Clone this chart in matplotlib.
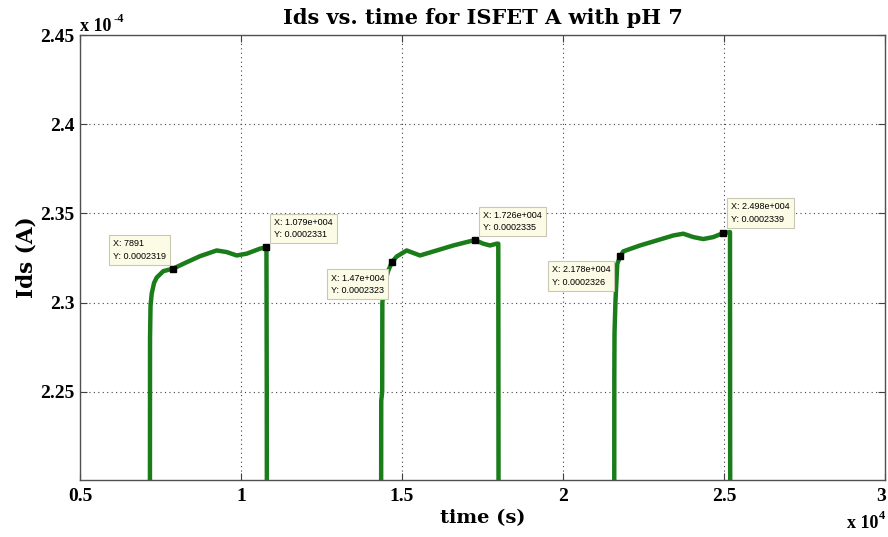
import matplotlib
matplotlib.use("Agg")
import numpy as np
import matplotlib.pyplot as plt
from matplotlib.ticker import FuncFormatter, FixedLocator
from matplotlib.transforms import ScaledTranslation

# ---- measured data: time (s) and drain current Ids (in units of 1e-4 A) ----
t_run1 = [7170, 7175, 7190, 7227, 7300, 7382, 7587, 7891, 8314, 8727, 9245,
          9556, 9866, 10177, 10590, 10790, 10800, 10805]
ids_run1 = [2.15, 2.28, 2.298, 2.305, 2.311, 2.314, 2.3176, 2.319, 2.3226, 2.326,
            2.3292, 2.3283, 2.3264, 2.3274, 2.3302, 2.331, 2.25, 2.15]

t_run2 = [14350, 14355, 14385, 14390, 14450, 14575, 14700, 14835, 15146, 15559,
          16078, 16593, 17009, 17260, 17525, 17733, 17941, 17990, 17995, 18000]
ids_run2 = [2.15, 2.245, 2.25, 2.30, 2.310, 2.318, 2.323, 2.3258, 2.3292, 2.3264,
            2.3292, 2.332, 2.3339, 2.335, 2.333, 2.332, 2.333, 2.333, 2.25, 2.15]

t_run3 = [21590, 21594, 21600, 21630, 21686, 21780, 21873, 22391, 22910, 23425,
          23736, 24047, 24357, 24668, 24980, 25186, 25190, 25195]
ids_run3 = [2.15, 2.26, 2.283, 2.301, 2.3217, 2.326, 2.3287, 2.332, 2.3348, 2.3376,
            2.3386, 2.3367, 2.3356, 2.3367, 2.339, 2.3395, 2.25, 2.15]

# data cursor points
tip_t = [7891, 10790, 14700, 17260, 21780, 24980]
tip_ids = [2.319, 2.331, 2.323, 2.335, 2.326, 2.339]
tip_x_text = ["7891", "1.079e+004", "1.47e+004", "1.726e+004", "2.178e+004", "2.498e+004"]
tip_y_text = ["0.0002319", "0.0002331", "0.0002323", "0.0002335", "0.0002326", "0.0002339"]

x_ticks = [0.5e4, 1.0e4, 1.5e4, 2.0e4, 2.5e4, 3.0e4]
y_ticks = [2.25e-4, 2.30e-4, 2.35e-4, 2.40e-4, 2.45e-4]

SCALE = 1e-4
serif = ["Liberation Serif", "DejaVu Serif"]
wide_serif = ["DejaVu Serif", "Liberation Serif"]
sans = ["Liberation Sans", "DejaVu Sans"]

W, H = 888, 537
fig = plt.figure(figsize=(W / 100, H / 100), dpi=100)
ax = fig.add_axes([80 / W, 1 - 480 / H, 805 / W, 445 / H])

line_color = "#1a7d1a"
for t, ids in ((t_run1, ids_run1), (t_run2, ids_run2), (t_run3, ids_run3)):
    ax.plot(t, np.array(ids) * SCALE, color=line_color, lw=3.2,
            solid_joinstyle="round", zorder=3)

ax.set_xlim(0.5e4, 3.0e4)
ax.set_ylim(2.2005e-4, 2.45e-4)
ax.xaxis.set_major_locator(FixedLocator(x_ticks))
ax.yaxis.set_major_locator(FixedLocator(y_ticks))
ax.xaxis.set_major_formatter(FuncFormatter(lambda v, p: f"{v / 1e4:g}"))
ax.yaxis.set_major_formatter(FuncFormatter(lambda v, p: f"{v / 1e-4:g}"))

ax.grid(True, linestyle=(0, (1, 3)), color="#444444", lw=0.8)
ax.tick_params(direction="in", length=5, width=0.8, top=True, right=True,
               colors="#404040", labelcolor="black")
ax.tick_params(axis="y", pad=4)
ax.tick_params(axis="x", pad=6)
for lbl in ax.get_xticklabels() + ax.get_yticklabels():
    lbl.set_fontfamily(serif)
    lbl.set_fontweight("bold")
    lbl.set_fontsize(14)
# keep the last x label inside the canvas
last = ax.get_xticklabels()[-1]
last.set_transform(last.get_transform() + ScaledTranslation(-4 / 100, 0, fig.dpi_scale_trans))

for s in ax.spines.values():
    s.set_color("#505050")
    s.set_linewidth(1.0)

ax.set_title("Ids vs. time for ISFET A with pH 7", family=wide_serif, fontweight="bold",
             fontsize=15, pad=8)
ax.set_xlabel("time (s)", family=wide_serif, fontweight="bold", fontsize=14, labelpad=3)
ax.set_ylabel("Ids (A)", family=wide_serif, fontweight="bold", fontsize=15.5, labelpad=2)

# exponent multipliers
mult_kw = dict(family=serif, fontweight="bold", va="baseline")
fig.text(80 / W, 1 - 31 / H, "x 10", fontsize=13, ha="left", **mult_kw)
fig.text(113 / W, 1 - 22 / H, "-4", fontsize=9, ha="left", **mult_kw)
fig.text(878 / W, 1 - 528 / H, "x 10", fontsize=13, ha="right", **mult_kw)
fig.text(879 / W, 1 - 519 / H, "4", fontsize=9, ha="left", **mult_kw)

# data cursor markers and boxes
tip_offsets = [(-7, 8), (8, 8), (-8, -12), (8, 8), (-10, -9), (8, 9)]
tip_align = [("right", "bottom"), ("left", "bottom"), ("right", "top"),
             ("left", "bottom"), ("right", "top"), ("left", "bottom")]
ax.plot(tip_t, np.array(tip_ids) * SCALE, linestyle="none", marker="s",
        markersize=5, color="black", zorder=5)
for t, v, xs, ys, off, (ha, va) in zip(tip_t, tip_ids, tip_x_text, tip_y_text,
                                        tip_offsets, tip_align):
    ax.annotate(f"X: {xs}\nY: {ys}", xy=(t, v * SCALE), xytext=off,
                textcoords="offset pixels", ha=ha, va=va, multialignment="left",
                family=sans, fontsize=6.5, linespacing=1.5, zorder=6,
                bbox=dict(boxstyle="square,pad=0.45", fc="#fbfbe6",
                          ec="#c8c8b4", lw=0.8))

fig.savefig("out.png", dpi=100)
